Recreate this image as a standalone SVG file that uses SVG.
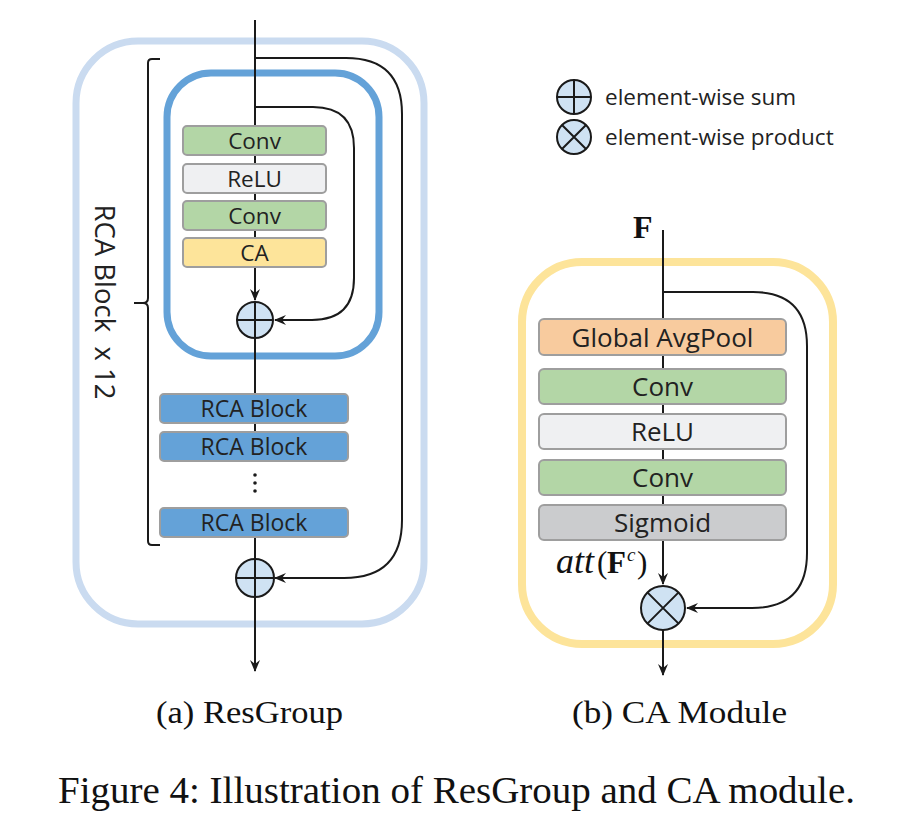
<svg xmlns="http://www.w3.org/2000/svg" width="906" height="830" viewBox="0 0 906 830">
<defs>
<marker id="arr" viewBox="0 0 12 10" refX="11" refY="5" markerWidth="12" markerHeight="10" markerUnits="userSpaceOnUse" orient="auto">
<path d="M0,0 L12,5 L0,10 L4,5 z" fill="#1a1a1a"/>
</marker>
<style>
.blk{stroke:#9e9e9e;stroke-width:2}
.lbl{font-family:"Open Sans","DejaVu Sans",sans-serif;fill:#222;text-anchor:middle}
.ln{stroke:#1a1a1a;stroke-width:2;fill:none}
.op{fill:#cfe2f3;stroke:#1a1a1a;stroke-width:2}
.serif{font-family:"Liberation Serif","Times New Roman",serif;fill:#111}
</style>
</defs>
<rect width="906" height="830" fill="#fff"/>

<!-- containers -->
<g id="resgroup-frame"><rect x="76" y="41" width="348" height="583" rx="62" fill="none" stroke="#cadbf0" stroke-width="7"/></g>
<g id="rca-block-frame"><rect x="167" y="73" width="212" height="283" rx="44" fill="none" stroke="#64a2d8" stroke-width="7"/></g>
<g id="ca-frame"><rect x="522" y="262" width="311" height="382" rx="60" fill="none" stroke="#fde49a" stroke-width="8"/></g>

<!-- connectors -->
<g id="connectors">
<path class="ln" d="M255,20 V300" marker-end="url(#arr)"/>
<path class="ln" d="M255,338 V394 M255,423 V432 M255,537 V559"/>
<path class="ln" d="M255,597 V671" marker-end="url(#arr)"/>
<path class="ln" d="M255,107 H313 Q354,107 354,148 V278 Q354,320 312,320 H275" marker-end="url(#arr)"/>
<path class="ln" d="M255,58 H346 Q402,58 402,114 V520 Q402,578 344,578 H275" marker-end="url(#arr)"/>
<path class="ln" d="M663,230 V584" marker-end="url(#arr)"/>
<path class="ln" d="M663,630 V675" marker-end="url(#arr)"/>
<path class="ln" d="M663,292 H753 Q807,292 807,346 V553 Q807,608 752,608 H687" marker-end="url(#arr)"/>
<path class="ln" d="M160,59 H152 Q148,59 148,63 V298 Q148,303 143,303 H134 M143,303 Q148,303 148,308 V541 Q148,545 152,545 H160"/>
</g>

<!-- ResGroup nodes -->
<g id="conv1"><rect class="blk" x="183" y="126" width="143" height="29" rx="4" fill="#b3d6a6"/><text class="lbl" x="254.5" y="148.5" font-size="22.5">Conv</text></g>
<g id="relu1"><rect class="blk" x="183" y="164" width="143" height="29" rx="4" fill="#eff0f2"/><text class="lbl" x="254.5" y="186.5" font-size="22.5">ReLU</text></g>
<g id="conv2"><rect class="blk" x="183" y="201" width="143" height="29" rx="4" fill="#b3d6a6"/><text class="lbl" x="254.5" y="223.5" font-size="22.5">Conv</text></g>
<g id="ca1"><rect class="blk" x="183" y="238" width="143" height="29" rx="4" fill="#fde49a"/><text class="lbl" x="254.5" y="260.5" font-size="22.5">CA</text></g>
<g id="sum1"><circle class="op" cx="255" cy="320" r="18"/><path class="ln" d="M237,320 H273 M255,302 V338"/></g>
<g id="rcab1"><rect class="blk" x="160" y="394" width="188" height="29" rx="4" fill="#64a2d8"/><text class="lbl" x="254" y="416.5" font-size="23">RCA Block</text></g>
<g id="rcab2"><rect class="blk" x="160" y="432" width="188" height="29" rx="4" fill="#64a2d8"/><text class="lbl" x="254" y="454.5" font-size="23">RCA Block</text></g>
<g id="dots"><circle cx="255" cy="475" r="1.8" fill="#1a1a1a"/><circle cx="255" cy="483" r="1.8" fill="#1a1a1a"/><circle cx="255" cy="491" r="1.8" fill="#1a1a1a"/></g>
<g id="rcab3"><rect class="blk" x="160" y="508" width="188" height="29" rx="4" fill="#64a2d8"/><text class="lbl" x="254" y="530.5" font-size="23">RCA Block</text></g>
<g id="sum2"><circle class="op" cx="255" cy="578" r="19"/><path class="ln" d="M236,578 H274 M255,559 V597"/></g>
<g id="brace-label"><text class="lbl" transform="translate(105,302) rotate(90)" x="0" y="10" font-size="27.5" style="white-space:pre">RCA Block  x 12</text></g>

<!-- legend -->
<g id="legend-sum"><circle class="op" cx="574" cy="97" r="17"/><path class="ln" d="M557,97 H591 M574,80 V114"/><text x="605" y="105" font-family="Open Sans, DejaVu Sans, sans-serif" font-size="22.5" fill="#222">element-wise sum</text></g>
<g id="legend-prod"><circle class="op" cx="574" cy="137" r="17"/><path class="ln" d="M562,125 L586,149 M586,125 L562,149"/><text x="605" y="145" font-family="Open Sans, DejaVu Sans, sans-serif" font-size="22.5" fill="#222">element-wise product</text></g>

<!-- CA module nodes -->
<g id="f-label"><text class="serif" x="633" y="238" font-size="32" font-weight="bold">F</text></g>
<g id="gap"><rect class="blk" x="539" y="319" width="247" height="36" rx="5" fill="#f8cb9e"/><text class="lbl" x="662.5" y="346.5" font-size="26">Global AvgPool</text></g>
<g id="conv3"><rect class="blk" x="539" y="369" width="247" height="35" rx="5" fill="#b3d6a6"/><text class="lbl" x="662.5" y="395.5" font-size="26">Conv</text></g>
<g id="relu2"><rect class="blk" x="539" y="414" width="247" height="35" rx="5" fill="#eff0f2"/><text class="lbl" x="662.5" y="440.5" font-size="26">ReLU</text></g>
<g id="conv4"><rect class="blk" x="539" y="460" width="247" height="35" rx="5" fill="#b3d6a6"/><text class="lbl" x="662.5" y="486.5" font-size="26">Conv</text></g>
<g id="sigmoid"><rect class="blk" x="539" y="505" width="247" height="35" rx="5" fill="#cbccce"/><text class="lbl" x="662.5" y="531.5" font-size="26">Sigmoid</text></g>
<g id="att-label"><text class="serif" font-size="31" fill="#333"><tspan x="556" y="573" font-style="italic" font-size="36">att</tspan><tspan x="597" y="573">(</tspan><tspan x="607" y="573" font-weight="bold">F</tspan><tspan x="627" y="561" font-size="19" font-style="italic">c</tspan><tspan x="637" y="573">)</tspan></text></g>
<g id="prod"><circle class="op" cx="663" cy="608" r="22"/><path class="ln" d="M647.4,592.4 L678.6,623.6 M678.6,592.4 L647.4,623.6"/></g>

<!-- captions -->
<g id="captions">
<text class="serif" x="156" y="723" font-size="31" textLength="187" lengthAdjust="spacingAndGlyphs">(a) ResGroup</text>
<text class="serif" x="572" y="723" font-size="31" textLength="215" lengthAdjust="spacingAndGlyphs">(b) CA Module</text>
<text class="serif" x="58" y="803" font-size="37" textLength="797" lengthAdjust="spacingAndGlyphs">Figure 4: Illustration of ResGroup and CA module.</text>
</g>
</svg>
